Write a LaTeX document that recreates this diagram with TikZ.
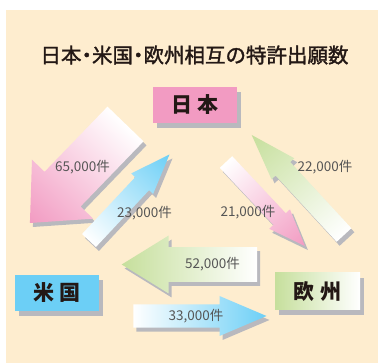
\documentclass[tikz,border=0pt]{standalone}
\usepackage{fontspec}
\newfontfamily\cjk{Noto Sans CJK JP}
\newfontfamily\cjkmed[FakeBold=1.6]{Noto Sans CJK JP}
\usetikzlibrary{shadows}
\definecolor{cream}{HTML}{FEEDCF}
\definecolor{jpink}{HTML}{F29BC2}
\definecolor{jblue}{HTML}{6CCFF6}
\definecolor{jgreen}{HTML}{C6DF9C}
\definecolor{shgray}{HTML}{B9B9BE}
\definecolor{lblgray}{HTML}{555555}
\definecolor{inkc}{HTML}{231815}
% #1,#2 tail centre; #3 direction; #4 length; #5 shaft half width; #6 head half width; #7 head length; #8 colour
\newcommand\myblockarrow[8]{%
  \begin{scope}[transform canvas={shift={({#1+3},{#2+4})},rotate=#3}]
    \fill[shgray] (0,-#5) -- ({#4-#7},-#5) -- ({#4-#7},-#6) -- (#4,0) -- ({#4-#7},#6) -- ({#4-#7},#5) -- (0,#5) -- cycle;
  \end{scope}
  \begin{scope}[transform canvas={shift={(#1,#2)},rotate=#3}]
    \shade[left color=white,right color=#8] (0,-#5) -- ({#4-#7},-#5) -- ({#4-#7},-#6) -- (#4,0) -- ({#4-#7},#6) -- ({#4-#7},#5) -- (0,#5) -- cycle;
  \end{scope}%
}
\begin{document}
\begin{tikzpicture}[x=1pt,y=-1pt,
  country/.style={minimum width=84pt,minimum height=36pt,inner sep=0pt,
    font=\cjk\bfseries\fontsize{21}{21}\selectfont,text=inkc,
    drop shadow={shadow xshift=4pt,shadow yshift=-5pt,fill=shgray,opacity=1}},
  count/.style={font=\cjk\fontsize{13.5}{13.5}\selectfont,text=lblgray,inner sep=0pt},
  titletext/.style={font=\cjkmed\fontsize{20.5}{20.5}\selectfont,text=inkc,inner sep=0pt}]
\useasboundingbox (0,0) rectangle (378,363);
\fill[cream] (6,10) rectangle (378,363);
\node[titletext] (title) at (194.5,55) {日本\hspace{-5pt}・\hspace{-5pt}米国\hspace{-5pt}・\hspace{-5pt}欧州相互の特許出願数};
% arrows
\myblockarrow{125.5}{124}{226}{137.6}{25}{42.5}{47}{jpink}
\myblockarrow{89}{240.5}{46.9}{117.8}{9.5}{15}{40}{jblue}
\myblockarrow{226}{162}{-46.8}{115.3}{8.5}{14.2}{37}{jpink}
\myblockarrow{344}{235}{132.7}{136.1}{10}{15.5}{46}{jgreen}
\myblockarrow{257}{264.5}{180}{135.3}{17.4}{29}{47}{jgreen}
\myblockarrow{133.3}{316}{0}{133.2}{11.7}{20}{47}{jblue}
% boxes
\node[country,fill=jpink] (jp) at (195,105) {日\hspace{6pt}本};
\node[country,fill=jblue] (us) at (57,293) {米\hspace{6pt}国};
\node[country,minimum width=85pt,minimum height=37pt,left color=jgreen,right color=white] (eu) at (317.5,291.5) {欧\hspace{6pt}州};
% labels
\node[count] (l65) at (82.5,167.5) {65,000件};
\node[count] (l23) at (144.5,213) {23,000件};
\node[count] (l21) at (248,212.5) {21,000件};
\node[count] (l22) at (325,167.5) {22,000件};
\node[count] (l52) at (212.5,264) {52,000件};
\node[count] (l33) at (196,316) {33,000件};
\end{tikzpicture}
\end{document}
